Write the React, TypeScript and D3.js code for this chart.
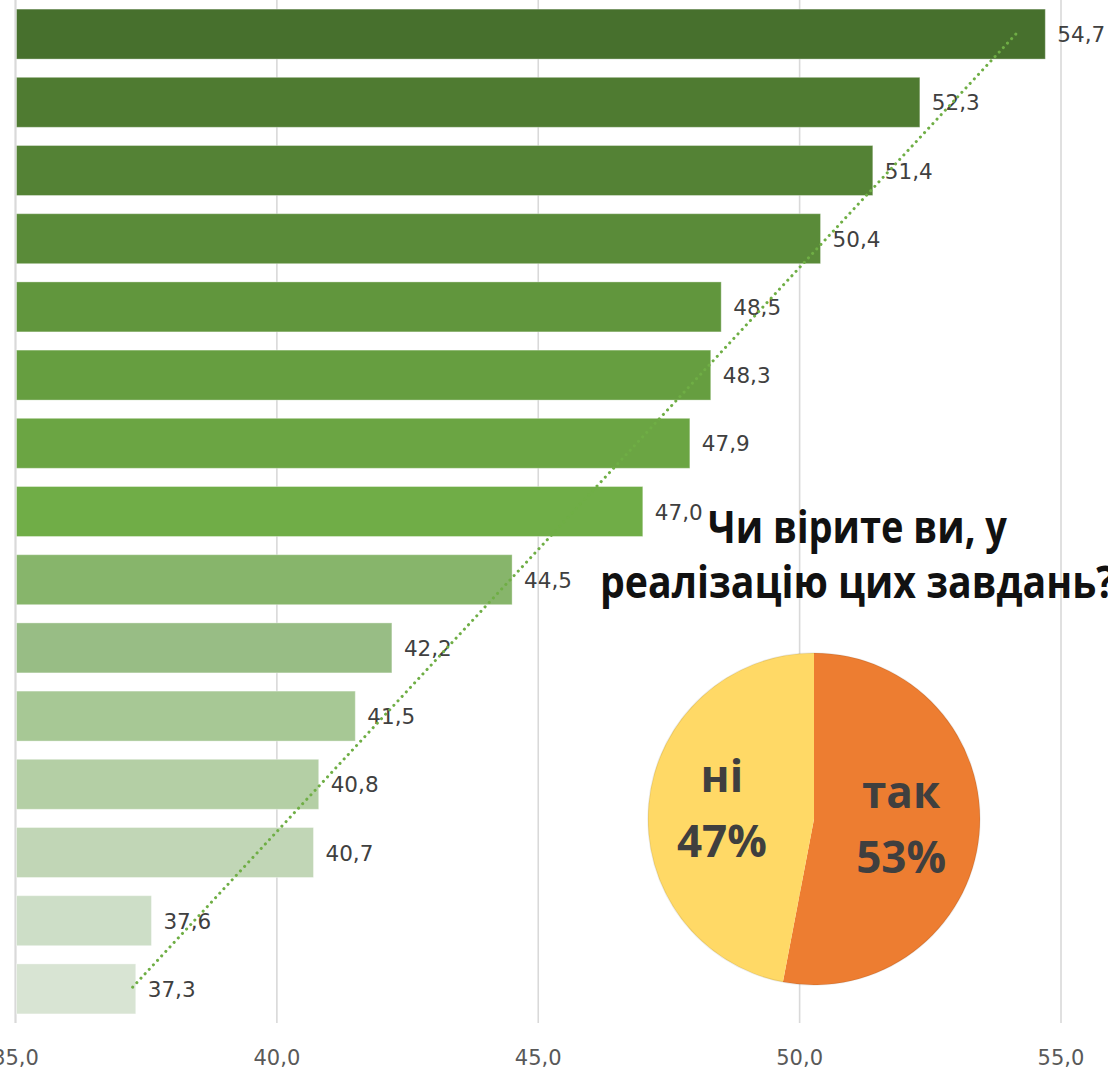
import React from "react";
import * as d3 from "d3";

const categories = ["1", "2", "3", "4", "5", "6", "7", "8", "9", "10", "11", "12", "13", "14", "15"];
const values = [54.7, 52.3, 51.4, 50.4, 48.5, 48.3, 47.9, 47.0, 44.5, 42.2, 41.5, 40.8, 40.7, 37.6, 37.3];
const barColors = [
  "#47702d", "#4f7b31", "#548235", "#5a8b39", "#61963d", "#669e40", "#6ba543", "#70ad47",
  "#87b56b", "#98bd85", "#a7c895", "#b4cfa5", "#c1d6b6", "#cddec7", "#d8e4d3",
];
const xTicks = [35, 40, 45, 50, 55];
const titleLines = ["Чи вірите ви, у", "реалізацію цих завдань?"];
const pieLabels = ["так", "ні"];
const pieValues = [53, 47];
const pieColors = ["#ed7d31", "#ffd966"];

const W = 1108;
const H = 1069;
const fmt = (v: number) => v.toFixed(1).replace(".", ",");

export default function App() {
  const x = d3.scaleLinear().domain([35, 55]).range([15.5, 1061]);
  const y = d3
    .scaleBand<string>()
    .domain(categories)
    .range([0, 1023])
    .paddingInner(0.267)
    .paddingOuter(0.1335);

  // linear trendline (least squares on index)
  const idx = values.map((_, i) => i);
  const mi = d3.mean(idx) as number;
  const mv = d3.mean(values) as number;
  const slope =
    (d3.sum(idx, (i) => (i - mi) * (values[i] - mv)) as number) /
    (d3.sum(idx, (i) => (i - mi) * (i - mi)) as number);
  const intercept = mv - slope * mi;
  const trendPts: [number, number][] = [0, categories.length - 1].map((i) => [
    x(intercept + slope * i),
    (y(categories[i]) as number) + y.bandwidth() / 2,
  ]);
  const trendLine = d3.line()(trendPts) as string;

  const pieCx = 814;
  const pieCy = 819;
  const pieR = 166;
  const pie = d3.pie<number>().sort(null).value((d) => d)(pieValues);
  const arc = d3.arc<d3.PieArcDatum<number>>().innerRadius(0).outerRadius(pieR);
  const labelArc = d3.arc<d3.PieArcDatum<number>>().innerRadius(0).outerRadius(175);

  return (
    <svg
      width={W}
      height={H}
      style={{ position: "absolute", left: 0, top: 0, background: "#fff" }}
      fontFamily="'DejaVu Sans', sans-serif"
    >
      <rect x={0} y={0} width={W} height={H} fill="#fff" />
      {/* gridlines */}
      {xTicks.map((t) => (
        <line key={t} x1={x(t)} x2={x(t)} y1={0} y2={1023} stroke="#d9d9d9" strokeWidth={t === 35 ? 2.2 : 1.6} />
      ))}
      {/* bars */}
      {values.map((v, i) => (
        <rect
          key={i}
          x={x(35) + 1}
          y={y(categories[i])}
          width={x(v) - x(35) - 1}
          height={y.bandwidth()}
          fill={barColors[i]}
          stroke="#ffffff"
          strokeOpacity={0.35}
          strokeWidth={1}
        />
      ))}
      {/* data labels */}
      {values.map((v, i) => (
        <text
          key={i}
          x={x(v) + 12}
          y={(y(categories[i]) as number) + y.bandwidth() / 2 + 8}
          fontSize={21.5}
          fill="#404040"
        >
          {fmt(v)}
        </text>
      ))}
      {/* trendline */}
      <path
        d={trendLine}
        fill="none"
        stroke="#6fae45"
        strokeWidth={3}
        strokeLinecap="round"
        strokeDasharray="0.1 6"
      />
      {/* x tick labels */}
      {xTicks.map((t) => (
        <text key={t} x={x(t)} y={1065} textAnchor="middle" fontSize={21} fill="#595959">
          {fmt(t)}
        </text>
      ))}
      {/* title */}
      <g fontFamily="'Open Sans', sans-serif" fontWeight={700} fontSize={44} fill="#111">
        <text x={857.5} y={543} textAnchor="middle" textLength={299} lengthAdjust="spacingAndGlyphs">
          {titleLines[0]}
        </text>
        <text x={857.5} y={598} textAnchor="middle" textLength={515} lengthAdjust="spacingAndGlyphs">
          {titleLines[1]}
        </text>
      </g>
      {/* pie */}
      <g transform={`translate(${pieCx},${pieCy})`}>
        {pie.map((d, i) => (
          <path key={i} d={arc(d) as string} fill={pieColors[i]} />
        ))}
        <circle r={pieR} fill="none" stroke="#000" strokeOpacity={0.08} strokeWidth={1.5} />
        {pie.map((d, i) => {
          const [cx, cy] = labelArc.centroid(d);
          return (
            <g key={i} fontFamily="'Open Sans', sans-serif" fontWeight={700} fontSize={44} fill="#3f3f3f" textAnchor="middle">
              <text x={i === 1 ? cx - 5 : cx} y={cy - 19}>{pieLabels[i]}</text>
              <text x={i === 1 ? cx - 5 : cx} y={cy + 46}>{pieValues[i]}%</text>
            </g>
          );
        })}
      </g>
    </svg>
  );
}
